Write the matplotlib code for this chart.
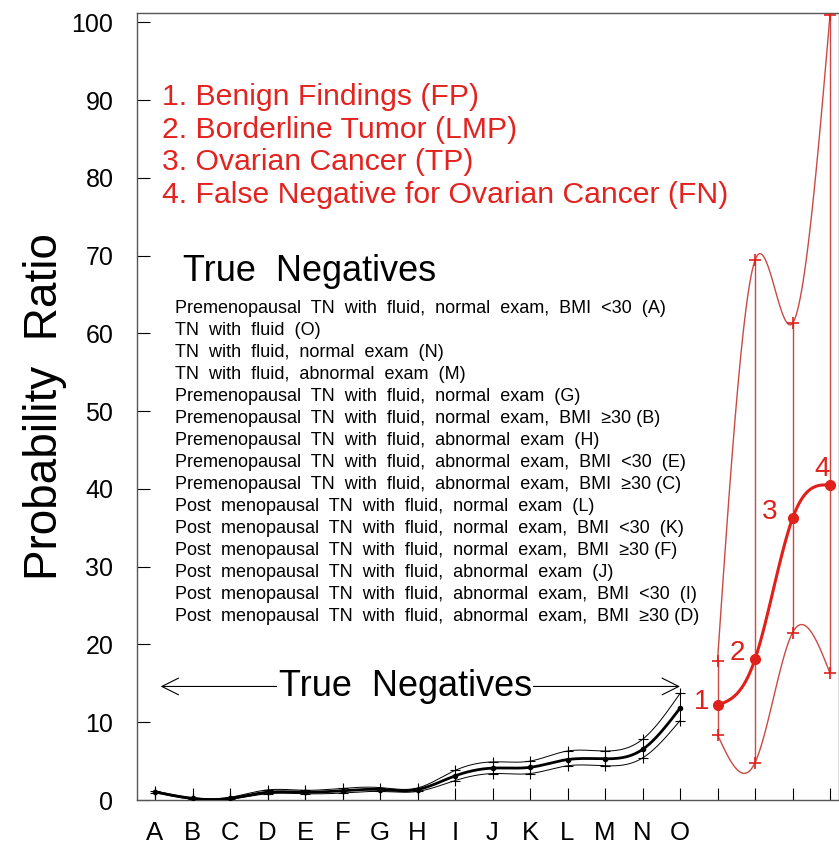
import numpy as np
import matplotlib
matplotlib.use("Agg")
import matplotlib.pyplot as plt

plt.rcParams['font.family'] = ['Liberation Sans', 'DejaVu Sans']

# True negative groups (A..O) with probability ratio and its bounds
groups = list("ABCDEFGHIJKLMNO")
tn_mid = [1.05, 0.2, 0.2, 1.0, 1.0, 1.2, 1.35, 1.35, 3.1, 4.1, 4.2, 5.2, 5.3, 6.5, 11.8]
tn_upper = [1.15, 0.3, 0.35, 1.3, 1.25, 1.5, 1.6, 1.55, 3.8, 4.9, 5.0, 6.3, 6.3, 7.8, 13.7]
tn_lower = [0.95, 0.1, 0.1, 0.8, 0.8, 0.9, 1.1, 1.1, 2.5, 3.4, 3.4, 4.4, 4.4, 5.4, 10.2]

# outcome groups 1..4
out_labels = ["1", "2", "3", "4"]
out_mid = [12.2, 18.1, 36.2, 40.5]
out_upper = [17.9, 69.4, 61.3, 100.9]
out_lower = [8.4, 4.8, 21.5, 16.3]

legend_lines = [
    "1. Benign Findings (FP)",
    "2. Borderline Tumor (LMP)",
    "3. Ovarian Cancer (TP)",
    "4. False Negative for Ovarian Cancer (FN)",
]

tn_lines = [
    "Premenopausal  TN  with  fluid,  normal  exam,  BMI  <30  (A)",
    "TN  with  fluid  (O)",
    "TN  with  fluid,  normal  exam  (N)",
    "TN  with  fluid,  abnormal  exam  (M)",
    "Premenopausal  TN  with  fluid,  normal  exam  (G)",
    "Premenopausal  TN  with  fluid,  normal  exam,  BMI  \u226530 (B)",
    "Premenopausal  TN  with  fluid,  abnormal  exam  (H)",
    "Premenopausal  TN  with  fluid,  abnormal  exam,  BMI  <30  (E)",
    "Premenopausal  TN  with  fluid,  abnormal  exam,  BMI  \u226530 (C)",
    "Post  menopausal  TN  with  fluid,  normal  exam  (L)",
    "Post  menopausal  TN  with  fluid,  normal  exam,  BMI  <30  (K)",
    "Post  menopausal  TN  with  fluid,  normal  exam,  BMI  \u226530 (F)",
    "Post  menopausal  TN  with  fluid,  abnormal  exam  (J)",
    "Post  menopausal  TN  with  fluid,  abnormal  exam,  BMI  <30  (I)",
    "Post  menopausal  TN  with  fluid,  abnormal  exam,  BMI  \u226530 (D)",
]


def smooth(x, y, n=40):
    # natural cubic spline, only used to draw the curve through the points
    x = np.asarray(x, float)
    y = np.asarray(y, float)
    k = len(x)
    h = np.diff(x)
    A = np.zeros((k, k))
    d = np.zeros(k)
    A[0, 0] = A[-1, -1] = 1
    for i in range(1, k - 1):
        A[i, i - 1] = h[i - 1]
        A[i, i] = 2 * (h[i - 1] + h[i])
        A[i, i + 1] = h[i]
        d[i] = 6 * ((y[i + 1] - y[i]) / h[i] - (y[i] - y[i - 1]) / h[i - 1])
    M = np.linalg.solve(A, d)
    xs, ys = [], []
    for i in range(k - 1):
        t = np.linspace(x[i], x[i + 1], n)
        a = x[i + 1] - t
        b = t - x[i]
        s = (M[i] * a ** 3 + M[i + 1] * b ** 3) / (6 * h[i]) \
            + (y[i] / h[i] - M[i] * h[i] / 6) * a \
            + (y[i + 1] / h[i] - M[i + 1] * h[i] / 6) * b
        xs.append(t)
        ys.append(s)
    return np.concatenate(xs), np.concatenate(ys)


fig = plt.figure(figsize=(8.39, 8.44), dpi=100)
ax = fig.add_axes([137 / 839, 44 / 844, 702 / 839, 787 / 844])

x_tn = np.arange(1, len(groups) + 1)
x_out = np.arange(len(groups) + 1, len(groups) + 1 + len(out_mid))

# true negatives (black)
for vals, lw in [(tn_upper, 0.7), (tn_lower, 0.7), (tn_mid, 2.0)]:
    sx, sy = smooth(x_tn, vals)
    ax.plot(sx, sy, color='black', lw=lw, zorder=3)
ax.vlines(x_tn, tn_lower, tn_upper, color='black', lw=0.7, zorder=3)
ax.plot(x_tn, tn_upper, '+', color='black', ms=7, mew=0.8, zorder=4)
ax.plot(x_tn, tn_lower, '+', color='black', ms=7, mew=0.8, zorder=4)
ax.plot(x_tn, tn_mid, 'o', color='black', ms=3, zorder=4)

# outcome groups (red)
thin_red = '#c94a45'
for vals in [out_upper, out_lower]:
    sx, sy = smooth(x_out, vals)
    ax.plot(sx, sy, color=thin_red, lw=1.0, zorder=3)
    ax.plot(x_out, vals, '+', color='#e0201a', ms=8, mew=1.2, zorder=4)
ax.vlines(x_out, out_lower, out_upper, color=thin_red, lw=1.0, zorder=3)
sx, sy = smooth(x_out, out_mid)
ax.plot(sx, sy, color='#e0201a', lw=2.2, zorder=4)
ax.plot(x_out, out_mid, 'o', color='#e0201a', ms=7, zorder=5)

label_offsets = [(-0.42, 0.4), (-0.48, 0.8), (-0.6, 0.8), (-0.2, 2.1)]
for xv, yv, lab, (dx, dy) in zip(x_out, out_mid, out_labels, label_offsets):
    ax.text(xv + dx, yv + dy, lab, color='#e0201a', fontsize=20, ha='center', va='center')

# legend text
for i, line in enumerate(legend_lines):
    ax.text(1.2, 90.4 - i * 4.2, line, color='#e3231f', fontsize=21.7, ha='left', va='center')

ax.text(1.75, 67.9, "True  Negatives", fontsize=26, ha='left', va='center')
for i, line in enumerate(tn_lines):
    ax.text(1.53, 63.2 - i * (63.2 - 23.6) / 14, line, fontsize=13, ha='left', va='center')

# arrow with label
ax.annotate("", xy=(1.15, 14.6), xytext=(15.0, 14.6),
            arrowprops=dict(arrowstyle='<->', lw=0.8, color='black',
                            mutation_scale=30, shrinkA=0, shrinkB=0))
ax.text(7.67, 14.6, "True  Negatives", fontsize=26, ha='center', va='center',
        bbox=dict(facecolor='white', edgecolor='none', pad=1), zorder=5)

ax.set_xlim(0.52, 19.24)
ax.set_ylim(0, 101.2)
ax.set_xticks(np.concatenate([x_tn, x_out]))
ax.set_xticklabels(groups + [""] * len(out_mid))
ax.set_yticks(np.arange(0, 101, 10))
ax.tick_params(axis='x', direction='in', length=9, width=0.8, labelsize=18.5, pad=15)
ax.tick_params(axis='y', direction='in', length=9, width=0.8, labelsize=18, pad=17)
ax.set_ylabel("Probability  Ratio", fontsize=33, labelpad=3)
for sp in ax.spines.values():
    sp.set_color('#555555')
    sp.set_linewidth(1.0)

fig.savefig("out.png", dpi=100)
